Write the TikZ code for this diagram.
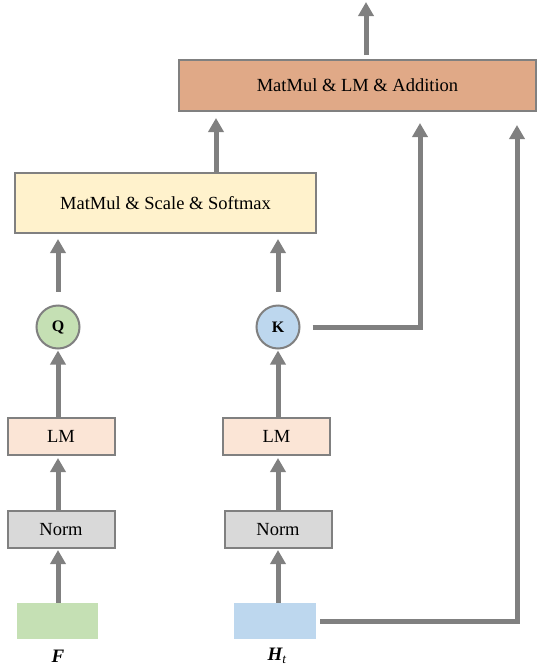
\documentclass[tikz,border=0pt]{standalone}
\usepackage{fontspec}
\setmainfont{Liberation Serif}
\usetikzlibrary{arrows.meta}
\definecolor{edge}{HTML}{808080}
\definecolor{topfill}{HTML}{E0A987}
\definecolor{softfill}{HTML}{FFF2CC}
\definecolor{lmfill}{HTML}{FBE5D6}
\definecolor{normfill}{HTML}{D9D9D9}
\definecolor{gfill}{HTML}{C5E0B4}
\definecolor{bfill}{HTML}{BDD7EE}
\tikzset{
  blk/.style={draw=edge, line width=2pt, inner sep=0pt, font=\fontsize{18.5}{21}\selectfont},
  circ/.style={circle, draw=edge, line width=2pt, minimum size=43pt, inner sep=0pt, font=\fontsize{16}{18}\selectfont\bfseries},
  inp/.style={inner sep=0pt},
  lbl/.style={inner sep=0pt, font=\fontsize{19}{21}\selectfont\bfseries\itshape},
  flow/.style={draw=edge, line width=5pt, -{Triangle[width=15pt,length=14pt]}}
}
\begin{document}
\begin{tikzpicture}[x=1pt,y=-1pt]
\useasboundingbox (0,0) rectangle (538,667);
% nodes
\node[blk, fill=topfill, minimum width=357pt, minimum height=51pt] (top) at (357.5,85.5) {MatMul \& LM \& Addition};
\node[blk, fill=softfill, minimum width=301pt, minimum height=60pt] (soft) at (165.5,203) {MatMul \& Scale \& Softmax};
\node[circ, fill=gfill] (q) at (58,327) {Q};
\node[circ, fill=bfill] (k) at (278,327) {K};
\node[blk, fill=lmfill, minimum width=107pt, minimum height=37pt] (lm1) at (61,436.5) {LM};
\node[blk, fill=lmfill, minimum width=107pt, minimum height=37pt] (lm2) at (276.5,436.5) {LM};
\node[blk, fill=normfill, minimum width=107pt, minimum height=37pt] (n1) at (61,529.5) {Norm};
\node[blk, fill=normfill, minimum width=107pt, minimum height=37pt] (n2) at (278,529.5) {Norm};
\node[inp, fill=gfill, minimum width=81pt, minimum height=36pt] (f) at (57.5,621) {};
\node[inp, fill=bfill, minimum width=82pt, minimum height=36pt] (h) at (275,621) {};
\node[lbl] (fl) at (58,656) {F};
\node[lbl] (hl) at (277,656) {H\textsubscript{\normalfont\itshape t}};
\coordinate (out) at (366,2);
\coordinate (kc) at (420,327);
\coordinate (hc) at (517,621);
\coordinate (sc) at (216,0);
% left column
\draw[flow] (q |- f.north) -- ([yshift=-1pt]q |- n1.south);
\draw[flow] (q |- n1.north) -- ([yshift=-2pt]q |- lm1.south);
\draw[flow] (q |- lm1.north) -- ([yshift=-1pt]q.south);
\draw[flow] ([yshift=13pt]q.north) -- ([yshift=-5pt]q |- soft.south);
% right column
\draw[flow] (k |- h.north) -- ([yshift=-1pt]k |- n2.south);
\draw[flow] (k |- n2.north) -- ([yshift=-2pt]k |- lm2.south);
\draw[flow] (k |- lm2.north) -- ([yshift=-1pt]k.south);
\draw[flow] ([yshift=13pt]k.north) -- ([yshift=-5pt]k |- soft.south);
% to top
\draw[flow] (sc |- soft.north) -- ([yshift=-6pt]sc |- top.south);
\draw[flow] ([xshift=12pt]k.east) -- (kc) -- ([yshift=-11pt]kc |- top.south);
\draw[flow] ([xshift=4pt]h.east) -- (hc) -- ([yshift=-13pt]hc |- top.south);
\draw[flow] ([yshift=4pt]out |- top.north) -- (out);
\end{tikzpicture}
\end{document}
